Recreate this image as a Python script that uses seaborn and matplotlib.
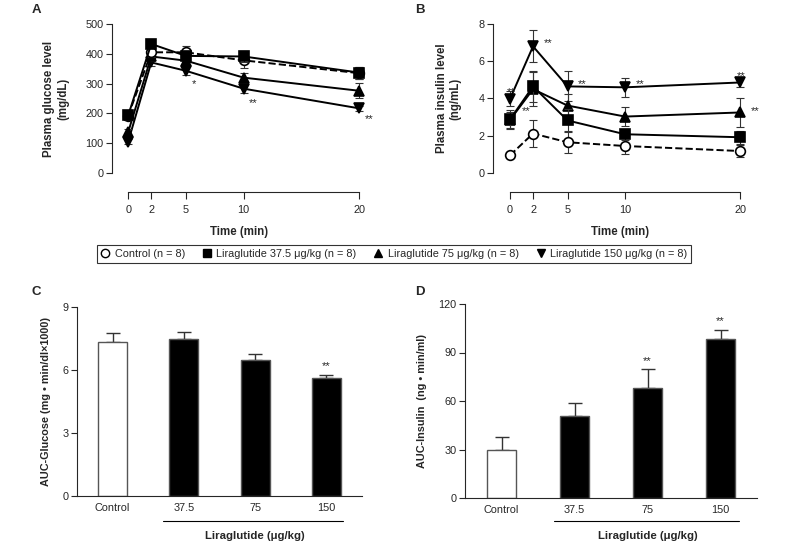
import numpy as np
import pandas as pd
import seaborn as sns
import matplotlib.pyplot as plt
from matplotlib.lines import Line2D
import matplotlib.transforms as mtransforms

sns.set_theme(style="ticks")
plt.rcParams['font.family'] = ['Liberation Sans', 'DejaVu Sans']
plt.rcParams['axes.linewidth'] = 0.8
plt.rcParams['xtick.major.width'] = 0.8
plt.rcParams['ytick.major.width'] = 0.8

# time course data
time = [0, 2, 5, 10, 20]
groups = ['Control (n = 8)', 'Liraglutide 37.5 \u03bcg/kg (n = 8)',
          'Liraglutide 75 \u03bcg/kg (n = 8)', 'Liraglutide 150 \u03bcg/kg (n = 8)']

glucose_ctrl = [192, 405, 405, 378, 335]
glucose_375 = [193, 433, 393, 391, 337]
glucose_75 = [137, 391, 377, 320, 276]
glucose_150 = [105, 371, 343, 283, 217]
glucose_ctrl_err = [15, 15, 22, 25, 20]
glucose_375_err = [15, 12, 15, 18, 20]
glucose_75_err = [10, 15, 15, 15, 25]
glucose_150_err = [8, 12, 15, 15, 8]

insulin_ctrl = [0.95, 2.12, 1.65, 1.45, 1.18]
insulin_375 = [2.88, 4.65, 2.82, 2.08, 1.92]
insulin_75 = [2.85, 4.5, 3.62, 3.03, 3.25]
insulin_150 = [3.98, 6.8, 4.65, 4.6, 4.86]
insulin_ctrl_err = [0.1, 0.7, 0.6, 0.45, 0.3]
insulin_375_err = [0.5, 0.85, 0.6, 0.3, 0.35]
insulin_75_err = [0.45, 0.9, 0.6, 0.5, 0.8]
insulin_150_err = [0.4, 0.86, 0.8, 0.5, 0.22]

# AUC data
doses = ['Control', '37.5', '75', '150']
auc_glucose = [7.32, 7.48, 6.47, 5.62]
auc_glucose_err = [0.42, 0.33, 0.28, 0.15]
auc_insulin = [29.5, 51.0, 68.0, 98.3]
auc_insulin_err = [8.0, 7.5, 11.5, 5.8]

# significance marks (x, y, text)
stars_a = [(5.7, 300, '*'), (10.8, 235, '**'), (20.9, 180, '**')]
stars_b = [(0.1, 4.35, '**'), (1.4, 3.3, '**'), (3.3, 6.95, '**'), (6.3, 4.8, '**'),
           (11.3, 4.8, '**'), (20.1, 5.2, '**'), (21.3, 3.3, '**')]

W, H = 788, 543
fig = plt.figure(figsize=(W / 100, H / 100), dpi=100)


def px_axes(x0, x1, y0, y1):
    return fig.add_axes([x0 / W, 1 - y1 / H, (x1 - x0) / W, (y1 - y0) / H])


styles = [dict(marker='o', mfc='white', ls='--', zorder=4),
          dict(marker='s', mfc='black', ls='-', zorder=5),
          dict(marker='^', mfc='black', ls='-', zorder=3),
          dict(marker='v', mfc='black', ls='-', zorder=2)]


def time_panel(ax, series, errs, ylim, yticks, ylabel, stars):
    for i, (vals, err) in enumerate(zip(series, errs)):
        st = styles[i]
        ax.errorbar(time, vals, yerr=err, fmt='none', ecolor='#333333',
                    elinewidth=0.8, capsize=3, capthick=0.8, zorder=st['zorder'])
        df = pd.DataFrame({'time': time, 'value': vals})
        sns.lineplot(data=df, x='time', y='value', ax=ax, color='black',
                     linewidth=1.4, linestyle=st['ls'], marker=st['marker'],
                     markersize=7, markerfacecolor=st['mfc'],
                     markeredgecolor='black', markeredgewidth=1.2,
                     zorder=st['zorder'], clip_on=False)
    ax.set_ylim(*ylim)
    ax.set_yticks(yticks)
    ax.set_xticks(time)
    sns.despine(ax=ax)
    ax.spines['bottom'].set_position(('outward', 13.7))
    ax.spines['bottom'].set_bounds(0, 20)
    ax.tick_params(axis='y', labelsize=7.8, length=4, direction='out', pad=2)
    ax.tick_params(axis='x', labelsize=7.8, length=5, direction='out', pad=4)
    ax.set_xlabel('Time (min)', fontsize=8.3, fontweight='bold', labelpad=8)
    ax.set_ylabel(ylabel, fontsize=8.3, fontweight='bold', labelpad=12)
    for x, y, t in stars:
        ax.text(x, y, t, fontsize=8, ha='center', va='center', clip_on=False)


axA = px_axes(112, 366, 24, 173)
axA.set_xlim(-1.4, 20.6)
time_panel(axA, [glucose_ctrl, glucose_375, glucose_75, glucose_150],
           [glucose_ctrl_err, glucose_375_err, glucose_75_err, glucose_150_err],
           (0, 500), [0, 100, 200, 300, 400, 500],
           'Plasma glucose level\n(mg/dL)', stars_a)

axB = px_axes(493, 747, 24, 173)
axB.set_xlim(-1.48, 20.6)
time_panel(axB, [insulin_ctrl, insulin_375, insulin_75, insulin_150],
           [insulin_ctrl_err, insulin_375_err, insulin_75_err, insulin_150_err],
           (0, 8), [0, 2, 4, 6, 8],
           'Plasma insulin level\n(ng/mL)', stars_b)


def auc_panel(ax, vals, err, ylim, yticks, ylabel, star_idx, line_x, line_y, lab_y):
    df = pd.DataFrame({'dose': doses, 'value': vals})
    sns.barplot(data=df, x='dose', y='value', ax=ax, width=0.41,
                palette=['white', 'black', 'black', 'black'], hue='dose',
                legend=False, edgecolor='#555555', linewidth=1.0)
    ax.errorbar(range(4), vals, yerr=[np.zeros(4), err], fmt='none',
                ecolor='#333333', elinewidth=1.0, capsize=5, capthick=1.0, zorder=0)
    ax.set_xlim(-0.5, 3.5)
    ax.set_ylim(*ylim)
    ax.set_yticks(yticks)
    sns.despine(ax=ax)
    ax.tick_params(axis='y', labelsize=7.8, length=4, pad=2)
    ax.tick_params(axis='x', labelsize=7.8, length=0, pad=5)
    ax.set_xlabel('')
    ax.set_ylabel(ylabel, fontsize=7.8, fontweight='bold', labelpad=8)
    for i in star_idx:
        ax.text(i, vals[i] + err[i] + ylim[1] * 0.045, '**', fontsize=8, ha='center', va='center')
    trans = mtransforms.blended_transform_factory(ax.transData, ax.transAxes)
    ax.add_line(Line2D(line_x, [line_y, line_y], transform=trans, color='black',
                       linewidth=0.8, clip_on=False))
    ax.text(2.0, lab_y, 'Liraglutide (\u03bcg/kg)', transform=trans, fontsize=8.2,
            fontweight='bold', ha='center', va='center')


axC = px_axes(77, 362, 307, 496)
auc_panel(axC, auc_glucose, auc_glucose_err, (0, 9), [0, 3, 6, 9],
          'AUC-Glucose (mg \u2022 min/dl\u00d71000)', [3], [0.7, 3.23], -0.132, -0.21)

axD = px_axes(465, 757, 304, 498)
auc_panel(axD, auc_insulin, auc_insulin_err, (0, 120), [0, 30, 60, 90, 120],
          'AUC-Insulin  (ng \u2022 min/ml)', [2, 3], [0.72, 3.26], -0.119, -0.195)

# panel letters
for x, y, t in [(36, 10, 'A'), (420, 10, 'B'), (36, 292, 'C'), (420, 292, 'D')]:
    fig.text(x / W, 1 - y / H, t, fontsize=9.5, fontweight='bold', ha='center', va='center')

# shared legend
handles = [Line2D([], [], ls='none', marker=s['marker'], color='black',
                  markerfacecolor=s['mfc'], markersize=6) for s in styles]
leg = fig.legend(handles, groups, loc='center', ncol=4, bbox_to_anchor=(394 / W, 1 - 254 / H),
                 fontsize=7.8, frameon=True, fancybox=False, handlelength=0.8,
                 handletextpad=0.5, columnspacing=1.6, borderpad=0.35)
leg.get_frame().set_edgecolor('black')
leg.get_frame().set_linewidth(0.8)

fig.savefig('out.png', dpi=100)
